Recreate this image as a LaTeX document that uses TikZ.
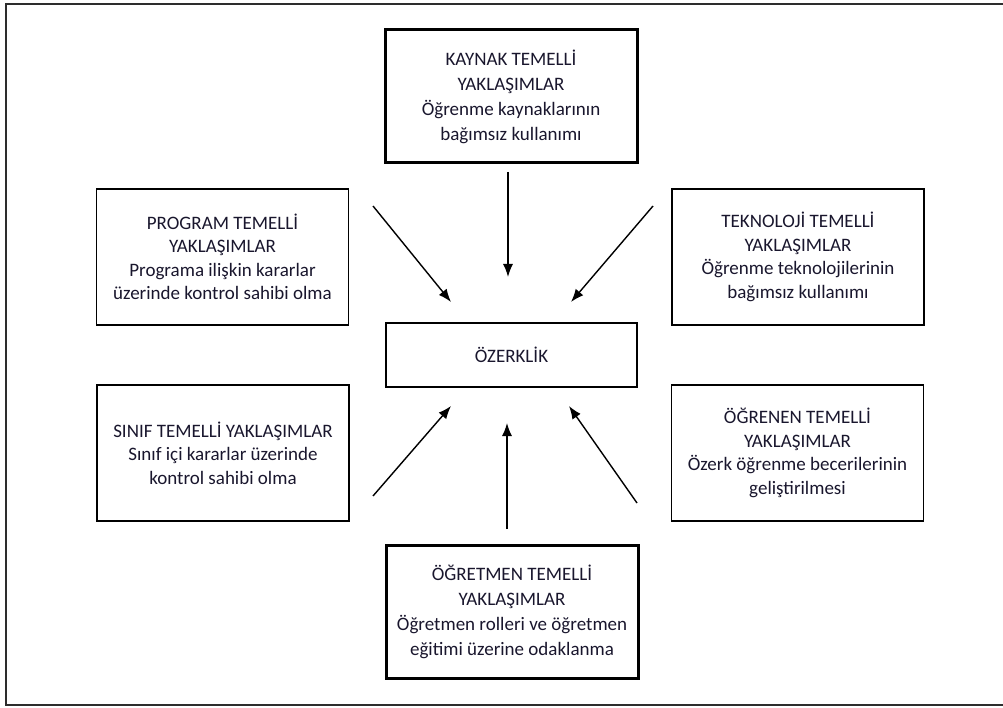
\documentclass[tikz,border=0pt]{standalone}
\usepackage{fontspec}
\setmainfont{Carlito}
\usetikzlibrary{arrows.meta}
\definecolor{txt}{RGB}{25,22,45}
\definecolor{frm}{RGB}{45,45,45}
\begin{document}
\begin{tikzpicture}[x=1pt,y=-1pt,
  box/.style={draw=black, line width=1.4pt, rectangle, inner sep=0pt, align=center,
    text=txt, font=\fontsize{19}{23.5}\selectfont, minimum width=252pt, minimum height=136pt},
  heavybox/.style={box, line width=3pt, minimum height=133pt, font=\fontsize{19}{25}\selectfont},
  arr/.style={draw=black, line width=1.4pt, -{Latex[length=13pt,width=10pt]}}]
\useasboundingbox (0,0) rectangle (1003,708);
\draw[frm, line width=2.6pt] (1003,4) -- (6,4) -- (6,705) -- (1003,705);

\node[heavybox] (kaynak) at (511,96.5) {KAYNAK TEMELLİ\\YAKLAŞIMLAR\\Öğrenme kaynaklarının\\bağımsız kullanımı};
\node[box] (program) at (222.5,257) {PROGRAM TEMELLİ\\YAKLAŞIMLAR\\Programa ilişkin kararlar\\üzerinde kontrol sahibi olma};
\node[box] (tekno) at (798,257) {TEKNOLOJİ TEMELLİ\\YAKLAŞIMLAR\\Öğrenme teknolojilerinin\\bağımsız kullanımı};
\node[box, line width=1.8pt, minimum width=251pt, minimum height=64pt] (ozerk) at (511.5,355) {ÖZERKLİK};
\node[box] (sinif) at (223,453) {SINIF TEMELLİ YAKLAŞIMLAR\\Sınıf içi kararlar üzerinde\\kontrol sahibi olma};
\node[box] (ogrenen) at (797.5,453) {ÖĞRENEN TEMELLİ\\YAKLAŞIMLAR\\Özerk öğrenme becerilerinin\\geliştirilmesi};
\node[heavybox] (ogretmen) at (512,611.5) {ÖĞRETMEN TEMELLİ\\YAKLAŞIMLAR\\Öğretmen rolleri ve öğretmen\\eğitimi üzerine odaklanma};

\coordinate (k1) at (508,172);  \coordinate (k2) at (508,277);
\coordinate (p1) at (373,206);  \coordinate (p2) at (451,302);
\coordinate (t1) at (653,206);  \coordinate (t2) at (571,302);
\coordinate (s1) at (373,496);  \coordinate (s2) at (451,406);
\coordinate (g1) at (507,529);  \coordinate (g2) at (507,423);
\coordinate (o1) at (637,503);  \coordinate (o2) at (569,406);

\draw[arr] (k1) -- (k2);
\draw[arr] (p1) -- (p2);
\draw[arr] (t1) -- (t2);
\draw[arr] (s1) -- (s2);
\draw[arr] (g1) -- (g2);
\draw[arr] (o1) -- (o2);
\end{tikzpicture}
\end{document}
